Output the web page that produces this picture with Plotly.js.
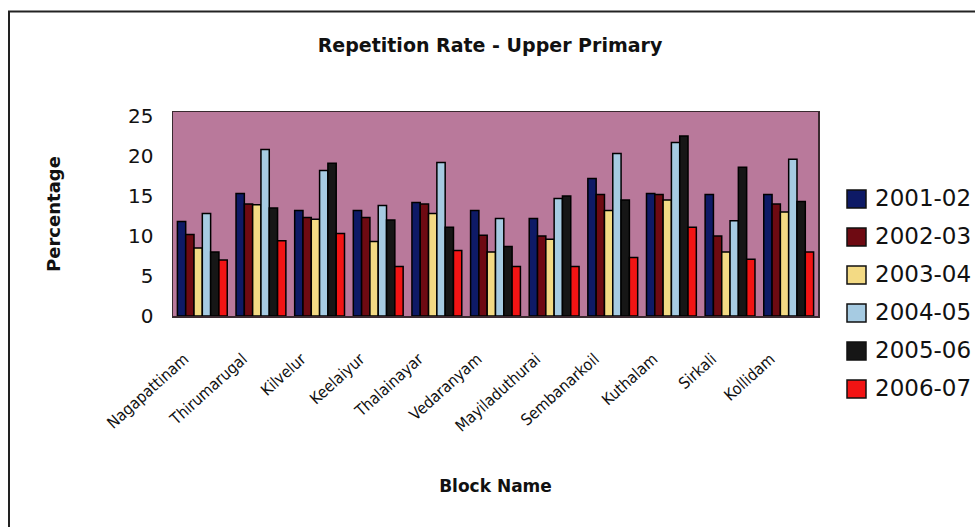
<!DOCTYPE html>
<html>
<head>
<meta charset="utf-8">
<script src="https://cdn.plot.ly/plotly-3.0.1.min.js"></script>
<style>
  html, body { margin: 0; padding: 0; background: #ffffff; }
  #chart { width: 975px; height: 527px; }
</style>
</head>
<body>
<div id="chart"></div>
<script>
// Blocks of the district
const blocks = ["Nagapattinam", "Thirumarugal", "Kilvelur", "Keelaiyur", "Thalainayar",
  "Vedaranyam", "Mayiladuthurai", "Sembanarkoil", "Kuthalam", "Sirkali", "Kollidam"];

// Repetition rate (%) in upper primary, per academic year
const years = ["2001-02", "2002-03", "2003-04", "2004-05", "2005-06", "2006-07"];
const rate2001 = [11.8, 15.3, 13.2, 13.2, 14.2, 13.2, 12.2, 17.2, 15.3, 15.2, 15.2];
const rate2002 = [10.2, 14.0, 12.3, 12.3, 14.0, 10.1, 10.0, 15.2, 15.2, 10.0, 14.0];
const rate2003 = [8.5, 13.9, 12.1, 9.3, 12.8, 8.0, 9.6, 13.2, 14.5, 8.0, 13.0];
const rate2004 = [12.8, 20.8, 18.2, 13.8, 19.2, 12.2, 14.7, 20.3, 21.7, 11.9, 19.6];
const rate2005 = [8.0, 13.5, 19.1, 12.0, 11.1, 8.7, 15.0, 14.5, 22.5, 18.6, 14.3];
const rate2006 = [7.0, 9.4, 10.3, 6.2, 8.2, 6.2, 6.2, 7.3, 11.1, 7.1, 8.0];

const series = [rate2001, rate2002, rate2003, rate2004, rate2005, rate2006];
const fills = ["#0e1a66", "#6e0a12", "#f3da84", "#a6cbe2", "#161616", "#f21414"];

const font = "DejaVu Sans, Verdana, sans-serif";
const fontCond = "DejaVu Sans Condensed, DejaVu Sans, sans-serif";

const traces = series.map((vals, i) => ({
  type: "bar",
  name: years[i],
  x: blocks,
  y: vals,
  marker: { color: fills[i], line: { color: "#000000", width: 1.5 } },
  hoverinfo: "x+y+name"
}));

// plot-area geometry in pixels, used for the outer frame and legend key
const L = 173, R = 818, T = 112, B = 316, W = 975, H = 527;
const px = v => (v - L) / (R - L);
const py = v => (B - v) / (B - T);

// legend key: one swatch + label per year, stacked down the right side
const keyTop = 199, keyStep = 38, swL = 847, swR = 866, swHalf = 9, textX = 873;
const keyShapes = years.map((y, i) => ({
  type: "rect", xref: "paper", yref: "paper",
  x0: px(swL), x1: px(swR),
  y0: py(keyTop + i * keyStep + swHalf), y1: py(keyTop + i * keyStep - swHalf),
  fillcolor: fills[i],
  line: { color: "#111111", width: 1.5 }
}));
const keyLabels = years.map((y, i) => ({
  xref: "paper", yref: "paper",
  x: px(textX), y: py(keyTop + i * keyStep - 1),
  xanchor: "left", yanchor: "middle",
  text: y, showarrow: false,
  font: { family: font, size: 23, color: "#111111" }
}));

const layout = {
  width: W,
  height: H,
  margin: { l: L, r: W - R, t: T, b: H - B, pad: 0 },
  paper_bgcolor: "#ffffff",
  plot_bgcolor: "#b9799b",
  barmode: "group",
  bargap: 0.15,
  bargroupgap: 0,
  showlegend: false,
  title: {
    text: "<b>Repetition Rate - Upper Primary</b>",
    font: { family: font, size: 19, color: "#111111" },
    x: px(490), xref: "paper", xanchor: "center",
    y: 1 - 45 / H, yref: "container", yanchor: "middle"
  },
  xaxis: {
    type: "category",
    tickangle: -42,
    tickfont: { family: fontCond, size: 16, color: "#111111" },
    ticks: "",
    ticklabelstandoff: 26,
    ticklabelshift: -18,
    showline: true, mirror: true, linecolor: "#3a2a30", linewidth: 1.5,
    showgrid: false,
    automargin: false,
    title: {
      text: "<b>Block Name</b>",
      font: { family: font, size: 17, color: "#111111" },
      standoff: 45
    }
  },
  yaxis: {
    range: [0, 25.5],
    tickvals: [0, 5, 10, 15, 20, 25],
    ticktext: ["0", "5", "10", "15", "20", "25"],
    tickfont: { family: font, size: 20, color: "#111111" },
    ticks: "",
    ticklabelstandoff: 14,
    showline: true, mirror: true, linecolor: "#3a2a30", linewidth: 1.5,
    showgrid: false,
    zeroline: false,
    automargin: false,
    title: {
      text: "<b>Percentage</b>",
      font: { family: font, size: 18, color: "#111111" },
      standoff: 62
    }
  },
  annotations: keyLabels,
  shapes: [
    {
      type: "rect", xref: "paper", yref: "paper",
      x0: px(9), x1: px(990), y0: py(540), y1: py(11.5),
      line: { color: "#222222", width: 2 },
      fillcolor: "rgba(0,0,0,0)",
      layer: "below"
    }
  ].concat(keyShapes)
};

Plotly.newPlot("chart", traces, layout, { displayModeBar: false, staticPlot: true });
</script>
</body>
</html>
